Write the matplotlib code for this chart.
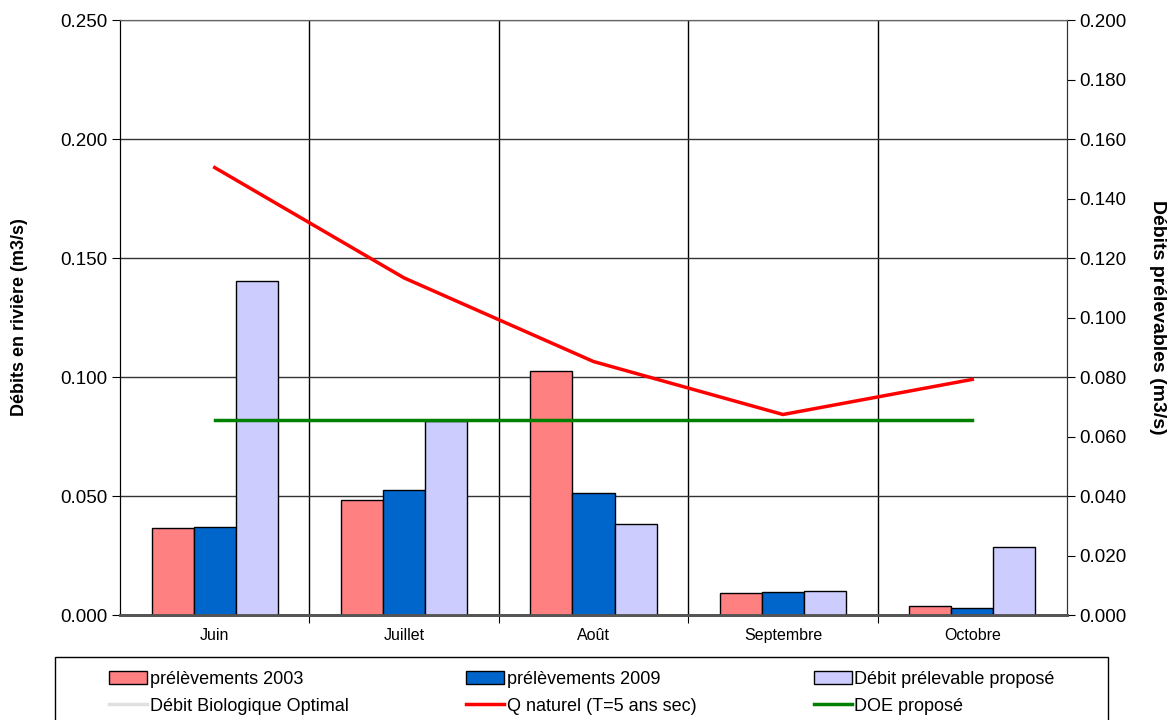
import numpy as np
import matplotlib
matplotlib.use("Agg")
import matplotlib.pyplot as plt
from matplotlib.patches import Patch, Rectangle
from matplotlib.lines import Line2D

plt.rcParams["font.family"] = ["Liberation Sans", "DejaVu Sans"]

# ── Données ────────────────────────────────────────────────────────────────
mois = ["Juin", "Juillet", "Août", "Septembre", "Octobre"]

prel_2003 = [0.0367, 0.0485, 0.1027, 0.0093, 0.0038]      # m3/s (axe gauche)
prel_2009 = [0.0371, 0.0524, 0.0514, 0.0097, 0.0031]
debit_prelevable = [0.1402, 0.0817, 0.0381, 0.0103, 0.0286]

q_naturel = [0.1504, 0.1133, 0.0852, 0.0674, 0.0792]      # m3/s (axe droit)
doe_propose = [0.0655, 0.0655, 0.0655, 0.0655, 0.0655]
dbo = [np.nan, np.nan, np.nan, np.nan, np.nan]            # pas de valeur renseignée

C_2003 = "#FF8080"
C_2009 = "#0066CC"
C_PROP = "#CCCCFF"
C_DBO = "#E0E0E0"
C_Q = "#FF0000"
C_DOE = "#008000"

# ── Figure ────────────────────────────────────────────────────────────────
fig = plt.figure(figsize=(11.71, 7.2), dpi=100)
ax = fig.add_axes([0.1025, 0.1458, 0.8087, 0.8264])
ax2 = ax.twinx()

x = np.arange(len(mois))
w = 1 / 4.5
ax.bar(x - w, prel_2003, w, color=C_2003, edgecolor="black", linewidth=1, zorder=3)
ax.bar(x, prel_2009, w, color=C_2009, edgecolor="black", linewidth=1, zorder=3)
ax.bar(x + w, debit_prelevable, w, color=C_PROP, edgecolor="black", linewidth=1, zorder=3)

ax2.plot(x, dbo, color=C_DBO, linewidth=2.5)
ax2.plot(x, q_naturel, color=C_Q, linewidth=2.5)
ax2.plot(x, doe_propose, color=C_DOE, linewidth=2.5)

# axe gauche
ax.set_xlim(-0.5, len(mois) - 0.5)
ax.set_ylim(0, 0.25)
ax.set_yticks(np.arange(0, 0.2501, 0.05))
ax.set_yticklabels([f"{v:.3f}" for v in np.arange(0, 0.2501, 0.05)])
ax.yaxis.grid(True, color="#333333", linewidth=1)
ax.set_axisbelow(True)
ax.tick_params(axis="y", direction="out", length=6, labelsize=13.5, pad=3)

# séparateurs des mois + libellés centrés
ax.set_xticks(np.arange(0.5, len(mois) - 0.5, 1))
ax.set_xticklabels([])
ax.xaxis.grid(True, color="black", linewidth=1)
ax.set_xticks(x, minor=True)
ax.set_xticklabels(mois, minor=True)
ax.tick_params(axis="x", which="major", direction="out", length=6)
ax.tick_params(axis="x", which="minor", length=0, labelsize=11.5, pad=9)

ax.set_ylabel("Débits en rivière (m3/s)", fontsize=13, fontweight="bold", labelpad=23)

# axe droit
ax2.set_ylim(0, 0.2)
ax2.set_yticks(np.arange(0, 0.2001, 0.02))
ax2.set_yticklabels([f"{v:.3f}" for v in np.arange(0, 0.2001, 0.02)])
ax2.tick_params(axis="y", direction="out", length=6, labelsize=13.5, pad=3)
ax2.set_ylabel("Débits prélevables (m3/s)", fontsize=14, fontweight="bold",
               rotation=270, labelpad=28)

for a in (ax, ax2):
    a.spines["top"].set_color("#666666")
    a.spines["bottom"].set_color("#555555")
    a.spines["bottom"].set_linewidth(2)
    a.spines["left"].set_color("black")
    a.spines["right"].set_color("#333333")

# ── Légende ────────────────────────────────────────────────────────────────
handles = [
    Patch(facecolor=C_2003, edgecolor="black", label="prélèvements 2003"),
    Line2D([], [], color=C_DBO, linewidth=2.5, label="Débit Biologique Optimal"),
    Patch(facecolor=C_2009, edgecolor="black", label="prélèvements 2009"),
    Line2D([], [], color=C_Q, linewidth=2.5, label="Q naturel (T=5 ans sec)"),
    Patch(facecolor=C_PROP, edgecolor="black", label="Débit prélevable proposé"),
    Line2D([], [], color=C_DOE, linewidth=2.5, label="DOE proposé"),
]
fig.legend(handles=handles, ncol=3, loc="upper left",
           bbox_to_anchor=(0.088, -0.06, 0.818, 0.1375), mode="expand",
           fontsize=13, frameon=False,
           handlelength=2.1, handleheight=0.8, handletextpad=0.15,
           borderpad=0.35, labelspacing=0.55, borderaxespad=0)
fig.patches.append(Rectangle((0.047, -0.01), 0.899, 0.0975, transform=fig.transFigure,
                             fill=False, edgecolor="black", linewidth=1))

fig.savefig("out.png", dpi=100)
